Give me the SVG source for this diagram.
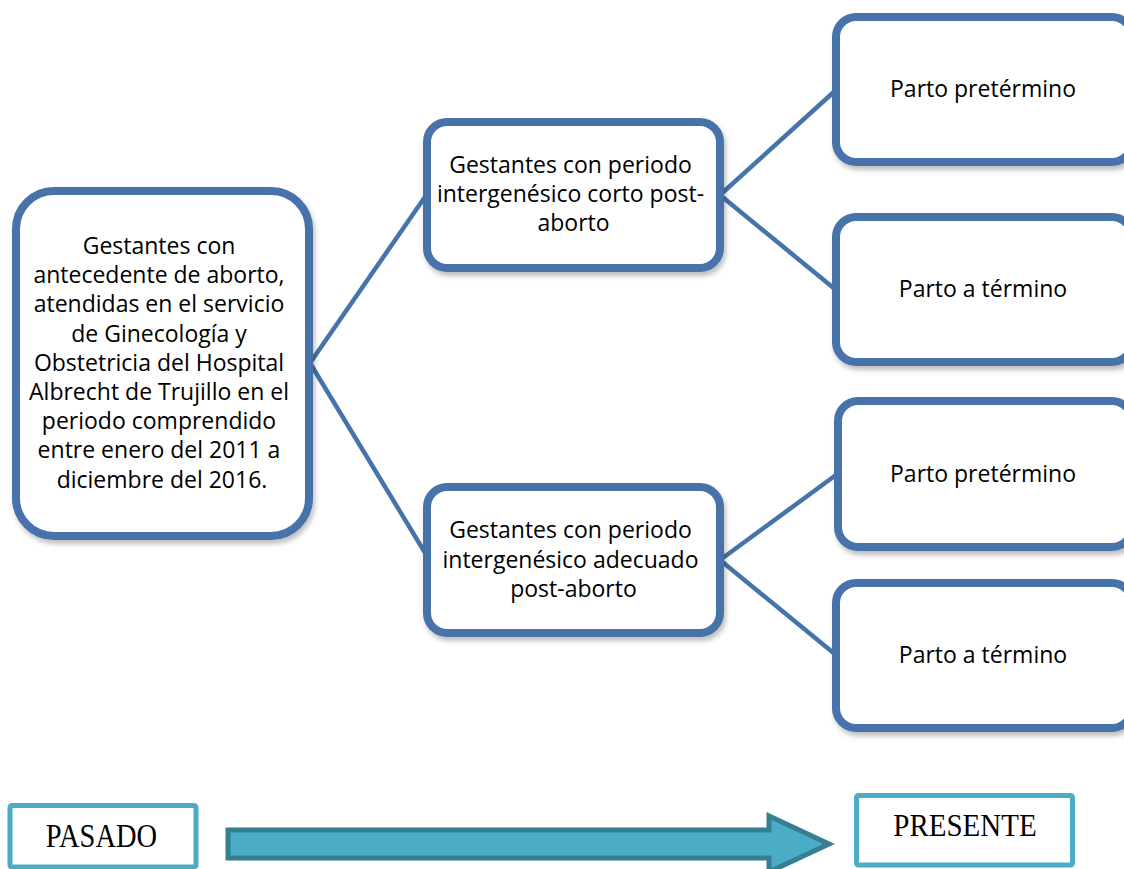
<svg xmlns="http://www.w3.org/2000/svg" width="1124" height="869" viewBox="0 0 1124 869">
<defs>
<filter id="sh" x="-10%" y="-10%" width="130%" height="130%">
<feDropShadow dx="2" dy="4" stdDeviation="2.5" flood-color="#000" flood-opacity="0.25"/>
</filter>
<style>
.box{fill:#fff;stroke:#4673aa;stroke-width:8;filter:url(#sh)}
.con{stroke:#4673aa;stroke-width:4.5;fill:none;stroke-linecap:butt}
.t{font-family:"Open Sans","Liberation Sans",sans-serif;font-size:23px;fill:#000;text-anchor:middle}
.tb{fill:#fff;stroke:#4bacc6;stroke-width:5}
.tt{font-family:"Liberation Serif","Times New Roman",serif;fill:#000;text-anchor:middle}
</style>
</defs>
<rect width="1124" height="869" fill="#fff"/>
<g id="connectors">
<line class="con" x1="310" y1="363" x2="427" y2="194"/>
<line class="con" x1="310" y1="363" x2="427" y2="556"/>
<line class="con" x1="720" y1="195" x2="836" y2="90"/>
<line class="con" x1="720" y1="195" x2="836" y2="290"/>
<line class="con" x1="720" y1="560" x2="836" y2="475"/>
<line class="con" x1="720" y1="560" x2="836" y2="655"/>
</g>
<g id="root">
<rect class="box" x="16" y="191" width="293" height="345" rx="38"/>
<text class="t" x="162">
<tspan x="162" y="254">Gestantes con</tspan>
<tspan x="162" y="283.2">antecedente de aborto,</tspan>
<tspan x="162" y="312.4">atendidas en el servicio</tspan>
<tspan x="162" y="341.6">de Ginecología y</tspan>
<tspan x="162" y="370.8">Obstetricia del Hospital</tspan>
<tspan x="162" y="400">Albrecht de Trujillo en el</tspan>
<tspan x="162" y="429.2">periodo comprendido</tspan>
<tspan x="162" y="458.4">entre enero del 2011 a</tspan>
<tspan x="162" y="487.6">diciembre del 2016.</tspan>
</text>
</g>
<g id="corto">
<rect class="box" x="427" y="122" width="293" height="146" rx="20"/>
<text class="t">
<tspan x="573.5" y="173">Gestantes con periodo</tspan>
<tspan x="573.5" y="202">intergenésico corto post-</tspan>
<tspan x="573.5" y="231">aborto</tspan>
</text>
</g>
<g id="adecuado">
<rect class="box" x="427" y="487" width="293" height="146" rx="20"/>
<text class="t">
<tspan x="573.5" y="538">Gestantes con periodo</tspan>
<tspan x="573.5" y="567.5">intergenésico adecuado</tspan>
<tspan x="573.5" y="597">post-aborto</tspan>
</text>
</g>
<g id="corto-pretermino">
<rect class="box" x="836" y="17" width="296" height="145" rx="20"/>
<text class="t" x="983" y="97">Parto pretérmino</text>
</g>
<g id="corto-termino">
<rect class="box" x="836" y="217" width="296" height="145" rx="20"/>
<text class="t" x="983" y="297">Parto a término</text>
</g>
<g id="adecuado-pretermino">
<rect class="box" x="838" y="401" width="294" height="146" rx="20"/>
<text class="t" x="983" y="482">Parto pretérmino</text>
</g>
<g id="adecuado-termino">
<rect class="box" x="836" y="583" width="296" height="145" rx="20"/>
<text class="t" x="983" y="663">Parto a término</text>
</g>
<g id="pasado">
<rect class="tb" x="10" y="805.5" width="186" height="61.5" rx="2"/>
<text class="tt" font-size="28.5" transform="translate(101.5,847) scale(1,1.15)">PASADO</text>
</g>
<g id="flecha">
<polygon points="228,830 769,830 769,816 829,844 769,872 769,858 228,858" fill="#4bacc6" stroke="#367f93" stroke-width="5" stroke-linejoin="miter"/>
</g>
<g id="presente">
<rect class="tb" x="856.5" y="795.5" width="216" height="69.5" rx="2"/>
<text class="tt" font-size="29" transform="translate(965,836) scale(1,1.1)">PRESENTE</text>
</g>
</svg>
